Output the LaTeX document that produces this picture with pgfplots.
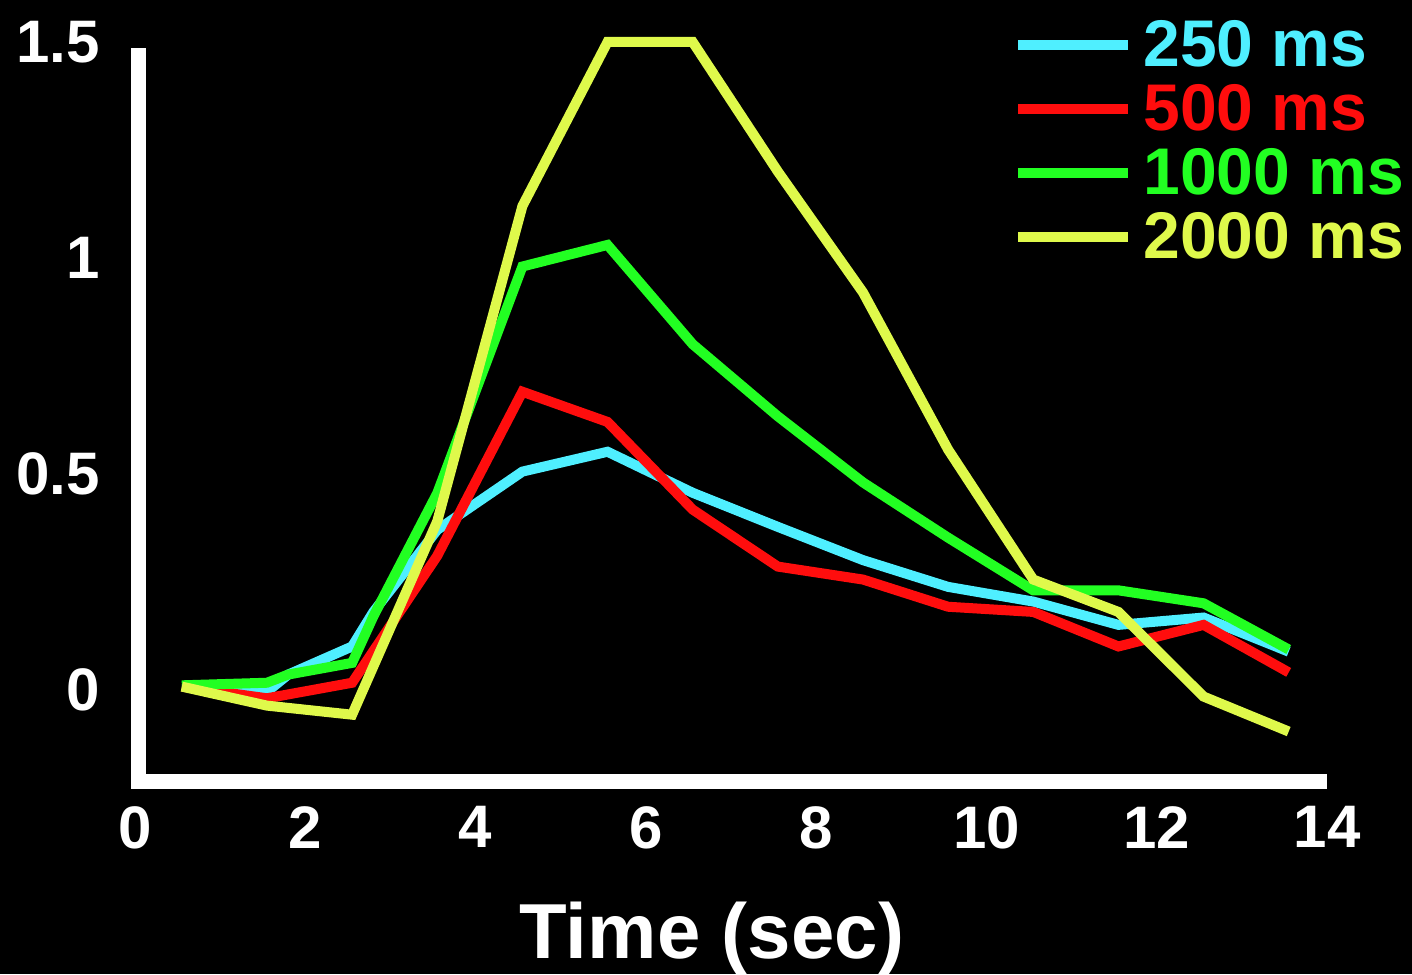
\documentclass[border=0pt]{standalone}
\usepackage{fontspec}
\setmainfont{Liberation Sans}
\usepackage{pgfplots}
\pgfplotsset{compat=1.18}
\definecolor{ccyan}{HTML}{4FEFFF}
\definecolor{cred}{HTML}{FF0D0D}
\definecolor{cgreen}{HTML}{22FF22}
\definecolor{cyellow}{HTML}{DFF94B}
\begin{document}
\begin{tikzpicture}
\fill[black, use as bounding box] (-67.5pt,-99pt) rectangle (638.5pt,388pt);
\begin{axis}[
 at={(0pt,0pt)}, anchor=south west,
 scale only axis, width=596pt, height=367pt,
 xmin=0, xmax=14, ymin=-0.2, ymax=1.5,
 axis x line=bottom, axis y line=left,
 axis line style={draw=none},
 xtick={0,2,...,14}, ytick={0,0.5,1,1.5},
 yticklabels={0,0.5,1,1.5},
 major tick length=0pt,
 tick style={draw=none},
 /pgf/number format/assume math mode=true,
 ticklabel style={white, font=\fontsize{30}{30}\selectfont\bfseries, inner sep=0pt},
 xticklabel style={anchor=north, yshift=-15pt},
 yticklabel style={anchor=east, xshift=-17.5pt},
 xlabel={Time (sec)},
 xlabel style={white, font=\fontsize{39}{39}\selectfont\bfseries, at={(axis description cs:0.484,0)}, anchor=north, yshift=-63pt, inner sep=0pt},
 clip=false,
 every axis plot/.append style={line width=5pt},
 legend style={draw=none, fill=none, at={(axis description cs:0.7366,1.03)}, anchor=north west, inner sep=0pt, row sep=7.5pt, font=\fontsize{33}{33}\selectfont\bfseries, nodes={inner sep=0pt}},
 legend cell align=left,
 legend image code/.code={\draw[#1, line width=5pt] (0pt,0pt) -- (55pt,0pt); \path (60pt,0pt);},
]
\draw[white, line width=7.5pt, line join=miter, xshift=1.75pt, yshift=-2.5pt] (rel axis cs:0,0.9985) -- (rel axis cs:0,0) -- (rel axis cs:0.997,0);
\addplot[ccyan] coordinates {(0.55,0.007) (1.55,-0.005) (1.8,0.035) (2.55,0.10) (2.8,0.18) (3.55,0.37) (4.55,0.505) (5.55,0.551) (6.55,0.456) (7.55,0.377) (8.55,0.30) (9.55,0.238) (10.55,0.204) (11.55,0.15) (12.55,0.167) (13.55,0.088)};
\addlegendentry{\textcolor{ccyan}{250 ms}}
\addplot[cred] coordinates {(0.55,0.007) (1.55,-0.02) (2.55,0.016) (3.55,0.31) (4.55,0.69) (5.55,0.62) (6.55,0.417) (7.55,0.285) (8.55,0.255) (9.55,0.192) (10.55,0.18) (11.55,0.10) (12.55,0.15) (13.55,0.04)};
\addlegendentry{\textcolor{cred}{500 ms}}
\addplot[cgreen] coordinates {(0.55,0.01) (1.55,0.016) (1.8,0.035) (2.55,0.062) (2.8,0.17) (3.55,0.455) (4.55,0.98) (5.55,1.03) (6.55,0.80) (7.55,0.633) (8.55,0.48) (9.55,0.352) (10.55,0.23) (11.55,0.23) (12.55,0.20) (13.55,0.093)};
\addlegendentry{\textcolor{cgreen}{1000 ms}}
\addplot[cyellow] coordinates {(0.55,0.007) (1.55,-0.037) (2.55,-0.058) (3.55,0.39) (4.55,1.12) (5.55,1.5) (6.55,1.5) (7.55,1.2) (8.55,0.92) (9.55,0.556) (10.55,0.255) (11.55,0.18) (12.55,-0.016) (13.55,-0.097)};
\addlegendentry{\textcolor{cyellow}{2000 ms}}
\end{axis}
\end{tikzpicture}
\end{document}
